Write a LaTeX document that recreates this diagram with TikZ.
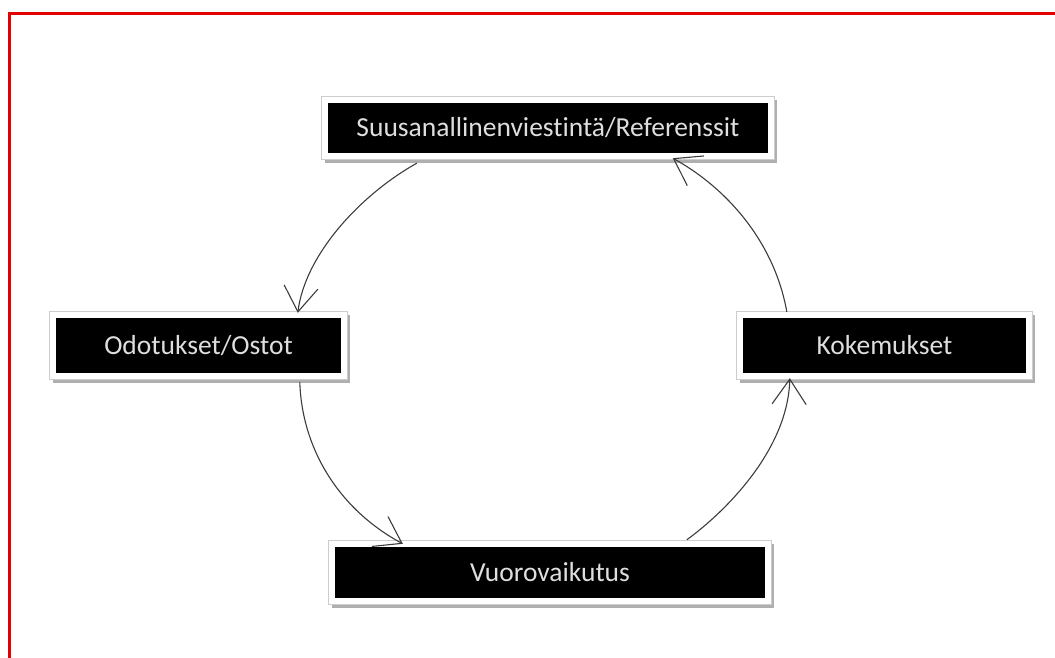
\documentclass[tikz,border=0pt]{standalone}
\usepackage{fontspec}
\setmainfont[Ligatures=NoCommon]{Carlito}
\usetikzlibrary{arrows.meta,backgrounds,calc}

\definecolor{edgered}{RGB}{226,0,0}
\definecolor{labeltext}{RGB}{222,222,222}
\definecolor{curveline}{RGB}{60,60,60}
\definecolor{framegray}{RGB}{205,205,205}
\definecolor{shadowgray}{RGB}{175,175,175}

\tikzset{
  stagebox/.style={fill=black, text=labeltext, inner sep=0pt,
    font=\fontsize{27.5}{32}\selectfont, anchor=center},
  cycle/.style={draw=curveline, line width=1.1pt,
    -{Straight Barb[length=25pt, width=34pt, line width=1.1pt]}},
}

% white frame with a soft shadow behind each black box
\newcommand{\stageframe}[1]{%
  \begin{scope}[on background layer]
    \fill[shadowgray] ($(#1.south west)+(-3,10)$) rectangle ($(#1.north east)+(9,-3)$);
    \filldraw[fill=white, draw=framegray, line width=0.8pt]
      ($(#1.south west)+(-6,6)$) rectangle ($(#1.north east)+(6,-6)$);
  \end{scope}}

\begin{document}
\begin{tikzpicture}[x=1pt, y=-1pt]
  \useasboundingbox (0,0) rectangle (1055,658);

  % red border running off the right and bottom edges
  \draw[edgered, line width=3.2pt] (9.5,658) -- (9.5,13.5) -- (1055,13.5);

  % stage boxes
  \node[stagebox, minimum width=440pt, minimum height=50pt] (wom) at (548,128)
    {Suusanallinenviestintä/Referenssit\hspace{16pt}};
  \node[stagebox, minimum width=285pt, minimum height=55pt] (exp) at (198.5,345.5)
    {Odotukset/Ostot};
  \node[stagebox, minimum width=283pt, minimum height=55pt] (kok) at (884.5,345.5)
    {Kokemukset};
  \node[stagebox, minimum width=430pt, minimum height=51pt] (vuo) at (550,572.5)
    {Vuorovaikutus};

  \stageframe{wom}
  \stageframe{exp}
  \stageframe{kok}
  \stageframe{vuo}

  % connector end points on the frames
  \coordinate (w1) at ($(wom.south west)+(89,10)$);
  \coordinate (w2) at ($(wom.south west)+(345,5)$);
  \coordinate (e1) at ($(exp.north west)+(242,-5)$);
  \coordinate (e2) at ($(exp.south west)+(244,9)$);
  \coordinate (v1) at ($(vuo.north west)+(68,-3)$);
  \coordinate (v2) at ($(vuo.north west)+(352,-7)$);
  \coordinate (k1) at ($(kok.south west)+(47,5)$);
  \coordinate (k2) at ($(kok.north west)+(44,-6)$);

  % the cycle
  \draw[cycle] (w1) .. controls (360,195) and (305,255) .. (e1);
  \draw[cycle] (e2) .. controls (302,450) and (340,510) .. (v1);
  \draw[cycle] (v2) .. controls (725,512) and (788,450) .. (k1);
  \draw[cycle] (k2) .. controls (775,245) and (730,190) .. (w2);
\end{tikzpicture}
\end{document}
